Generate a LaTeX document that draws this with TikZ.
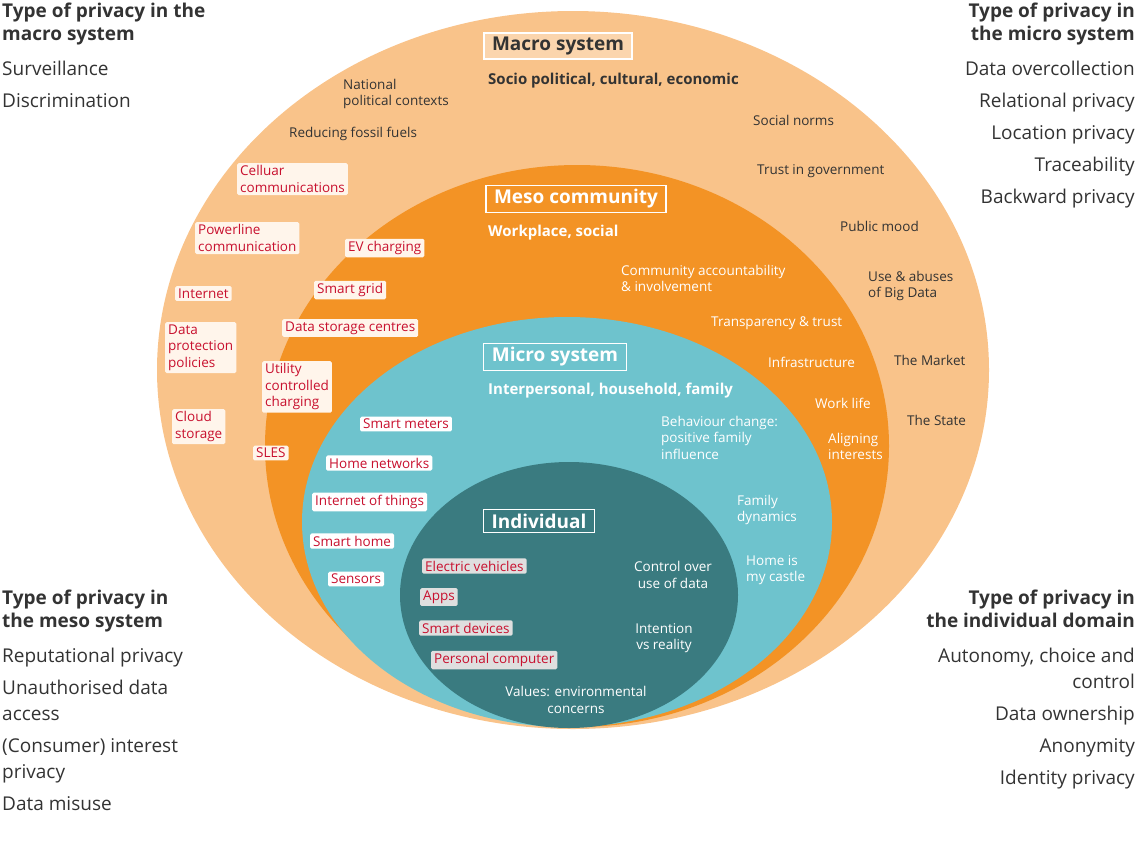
\documentclass[tikz,border=0pt]{standalone}
\usepackage{fontspec}
\setmainfont{Open Sans}
\begin{document}
\begin{tikzpicture}[x=1pt,y=-1pt]
\definecolor{macroC}{HTML}{F9C38A}
\definecolor{mesoC}{HTML}{F39325}
\definecolor{microC}{HTML}{6EC3CD}
\definecolor{indC}{HTML}{3A7B80}
\definecolor{txt}{HTML}{333333}
\definecolor{redt}{HTML}{C8102E}
\tikzset{
 lab/.style={font=\fontsize{13.5}{16.5}\selectfont, inner sep=0pt, align=left},
 dlab/.style={lab, text=txt},
 wlab/.style={lab, text=white},
 tag/.style={font=\fontsize{13.5}{16.5}\selectfont, text=redt, fill=#1, rounded corners=1.5pt, inner xsep=3pt, inner ysep=2.5pt, align=left},
 tag/.default={white},
 head/.style={font=\fontsize{19}{22}\selectfont\bfseries, draw=white, line width=1.2pt, inner xsep=8pt, inner ysep=4pt, fill=#1},
 sub/.style={font=\fontsize{15}{18}\selectfont\bfseries, inner sep=0pt},
 stitle/.style={font=\fontsize{19}{23}\selectfont\bfseries, text=txt, inner sep=0pt},
 sitem/.style={font=\fontsize{19}{26}\selectfont, text=txt, inner sep=0pt},
}
\useasboundingbox (0,0) rectangle (1140,855);
\fill[macroC] (573,370) ellipse [x radius=416, y radius=359];
\fill[mesoC] (577,446) ellipse [x radius=312, y radius=281];
\fill[microC] (567,522) ellipse [x radius=265, y radius=205];
\fill[indC] (569,595) ellipse [x radius=169, y radius=133];

% Macro
\node[head=macroC!70!white, text=txt] (hmac) at (558,46) {Macro system};
\node[sub, text=txt, anchor=west] (smac) at (488,81) {Socio political, cultural, economic};
\node[dlab, anchor=north west] (m1) at (343,79) {National\\political contexts};
\node[dlab, anchor=west] (m2) at (289,134) {Reducing fossil fuels};
\node[dlab, anchor=west] (m3) at (753,120) {Social norms};
\node[dlab, anchor=west] (m4) at (757,171) {Trust in government};
\node[dlab, anchor=west] (m5) at (840,226) {Public mood};
\node[dlab, anchor=north west] (m6) at (868,271) {Use \& abuses\\of Big Data};
\node[dlab, anchor=west] (m7) at (894,360) {The Market};
\node[dlab, anchor=west] (m8) at (907,420) {The State};
\node[tag=orange!8, anchor=north west] (t1) at (237,163) {Celluar\\communications};
\node[tag=orange!8, anchor=north west] (t2) at (195,222) {Powerline\\communication};
\node[tag=orange!8, anchor=north west] (t3) at (175,286) {Internet};
\node[tag=orange!8, anchor=north west] (t4) at (165,322) {Data\\protection\\policies};
\node[tag=orange!8, anchor=north west] (t5) at (172,409) {Cloud\\storage};

% Meso
\node[head=mesoC, text=white] (hmes) at (576,199) {Meso community};
\node[sub, text=white, anchor=west] (smes) at (488,233) {Workplace, social};
\node[wlab, anchor=north west] (e1) at (621,265) {Community accountability\\\& involvement};
\node[wlab, anchor=west] (e2) at (711,323) {Transparency \& trust};
\node[wlab, anchor=west] (e3) at (768,362) {Infrastructure};
\node[wlab, anchor=west] (e4) at (815,403) {Work life};
\node[wlab, anchor=north west] (e5) at (828,433) {Aligning\\interests};
\node[tag=orange!8, anchor=west] (u1) at (345,248) {EV charging};
\node[tag=orange!8, anchor=west] (u2) at (314,290) {Smart grid};
\node[tag=orange!8, anchor=west] (u3) at (282,328) {Data storage centres};
\node[tag=orange!8, anchor=north west] (u4) at (262,361) {Utility\\controlled\\charging};
\node[tag=orange!8, anchor=west] (u5) at (253,453) {SLES};

% Micro
\node[head=microC, text=white] (hmic) at (555,357) {Micro system};
\node[sub, text=white, anchor=west] (smic) at (488,391) {Interpersonal, household, family};
\node[wlab, anchor=north west] (c1) at (661,416) {Behaviour change:\\positive family\\influence};
\node[wlab, anchor=north west] (c2) at (737,495) {Family\\dynamics};
\node[wlab, anchor=north west] (c3) at (746,555) {Home is\\my castle};
\node[tag=white, anchor=west] (v1) at (360,424) {Smart meters};
\node[tag=white, anchor=west] (v2) at (326,463) {Home networks};
\node[tag=white, anchor=west] (v3) at (312,502) {Internet of things};
\node[tag=white, anchor=west] (v4) at (310,541) {Smart home};
\node[tag=white, anchor=west] (v5) at (328,579) {Sensors};

% Individual
\node[head=indC, text=white] (hind) at (539,521) {Individual};
\node[tag=gray!25, anchor=west] (w1) at (422,566) {Electric vehicles};
\node[tag=gray!25, anchor=west] (w2) at (420,597) {Apps};
\node[tag=gray!25, anchor=west] (w3) at (419,628) {Smart devices};
\node[tag=gray!25, anchor=west] (w4) at (431,660) {Personal computer};
\node[wlab, align=center] (i1) at (673,575) {Control over\\use of data};
\node[wlab, align=center] (i2) at (664,638) {Intention\\vs reality};
\node[wlab, align=center] (i3) at (576,700) {Values: environmental\\concerns};

% Side texts
\node[stitle, anchor=north west, align=left] (L1) at (2,3) {Type of privacy in the\\macro system};
\node[sitem, anchor=north west, align=left] (L1i) at (2,61) {Surveillance\\[6pt]Discrimination};
\node[stitle, anchor=north east, align=right] (R1) at (1135,3) {Type of privacy in\\the micro system};
\node[sitem, anchor=north east, align=right] (R1i) at (1135,61) {Data overcollection\\[6pt]Relational privacy\\[6pt]Location privacy\\[6pt]Traceability\\[6pt]Backward privacy};
\node[stitle, anchor=north west, align=left] (L2) at (2,590) {Type of privacy in\\the meso system};
\node[sitem, anchor=north west, align=left] (L2i) at (2,648) {Reputational privacy\\[6pt]Unauthorised data\\access\\[6pt](Consumer) interest\\privacy\\[6pt]Data misuse};
\node[stitle, anchor=north east, align=right] (R2) at (1135,590) {Type of privacy in\\the individual domain};
\node[sitem, anchor=north east, align=right] (R2i) at (1135,648) {Autonomy, choice and\\control\\[6pt]Data ownership\\[6pt]Anonymity\\[6pt]Identity privacy};
\end{tikzpicture}
\end{document}
